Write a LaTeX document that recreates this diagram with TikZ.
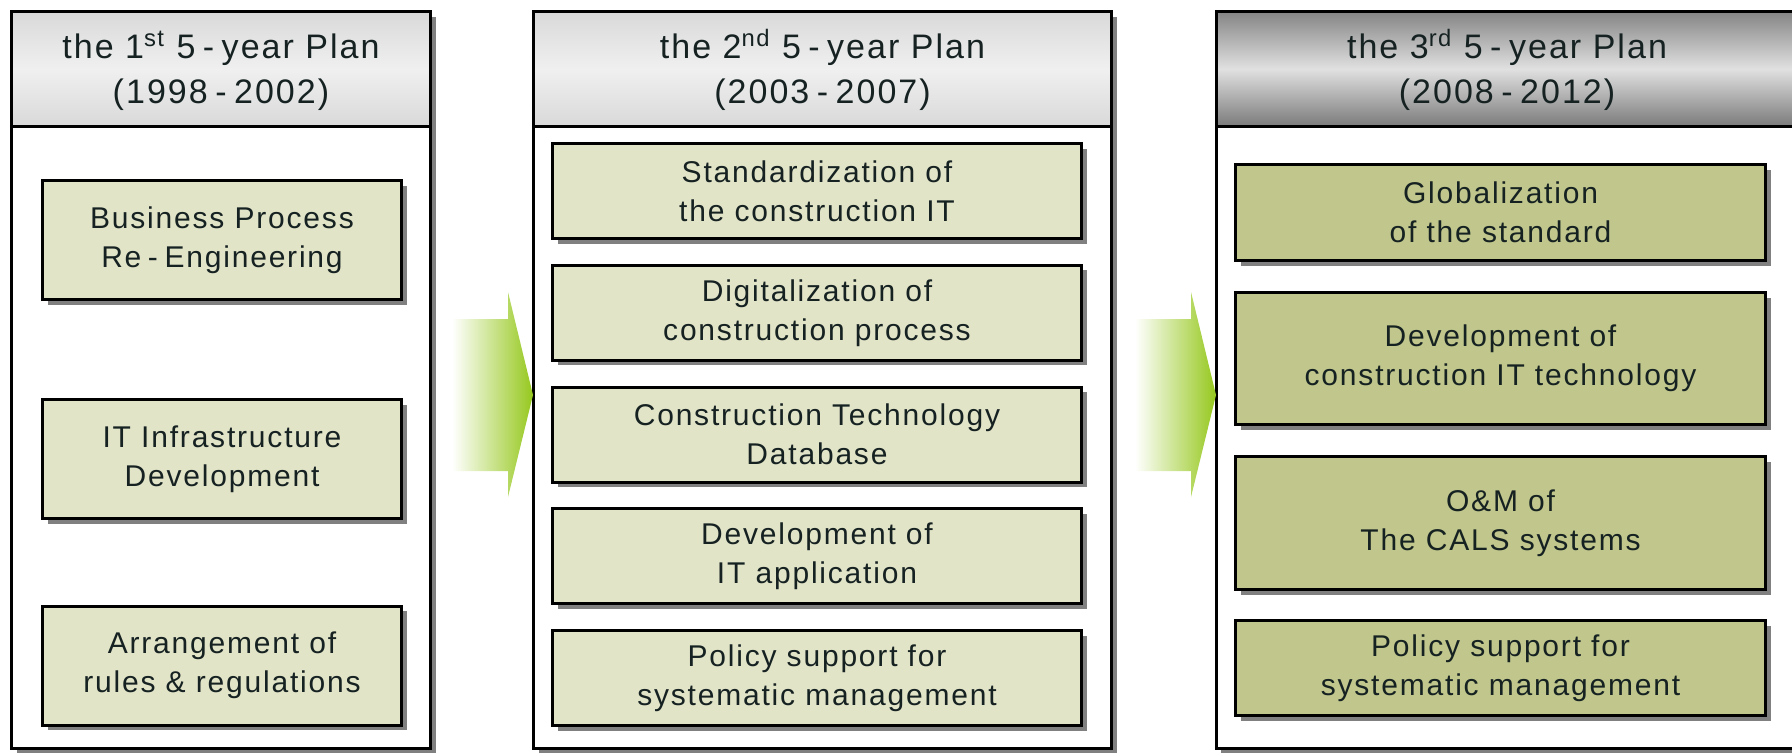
\documentclass[tikz,border=0pt]{standalone}
\usepackage{fontspec}
\setmainfont[LetterSpace=6]{Liberation Sans}
\usetikzlibrary{positioning,shadows}

\definecolor{ink}{RGB}{22,34,34}
\definecolor{paleolive}{RGB}{226,228,200}
\definecolor{olive}{RGB}{192,198,140}
\definecolor{arrowgreen}{RGB}{150,200,30}
\definecolor{shadowgray}{RGB}{128,128,128}

\newcommand{\dash}{\hspace{0.22em}-\hspace{0.22em}}

\tikzset{
  boxshadow/.style={drop shadow={shadow xshift=2.5pt, shadow yshift=-2.5pt, fill=shadowgray, opacity=1}},
  plan/.style={draw, line width=1.5pt, fill=white, minimum width=#1, minimum height=368.5pt, boxshadow},
  planhead/.style={draw, line width=1.5pt, minimum width=#1, minimum height=57.5pt, anchor=north,
    align=center, text=ink, font=\fontsize{17}{22.5}\selectfont,
    top color=black!15, bottom color=black!15, middle color=black!6},
  darkhead/.style={top color=black!48, bottom color=black!52, middle color=black!12},
  task/.style={draw, line width=1.5pt, fill=paleolive, align=center, text=ink,
    font=\fontsize{15}{19.5}\selectfont, boxshadow},
  task1/.style={task, minimum width=179.5pt, minimum height=59.5pt},
  task2/.style={task, minimum width=264.5pt, minimum height=47.5pt},
  task3/.style={task, fill=olive, minimum width=265pt, minimum height=#1},
  nextplan/.style={left color=white, right color=arrowgreen, draw=none}
}

\begin{document}
\begin{tikzpicture}[x=0.5pt, y=-0.5pt, node distance=11.9pt]
\useasboundingbox (0,0) rectangle (1792,752);

\node[plan=209.5pt] (p1) at (221,380) {};
\node[plan=289pt] (p2) at (822.5,380) {};
\node[plan=291pt] (p3) at (1507,380) {};

\node[planhead=209.5pt] (h1) at (p1.north) {\strut the 1\textsuperscript{st} 5\dash year Plan\\(1998\dash 2002)};
\node[planhead=289pt] (h2) at (p2.north) {\strut the 2\textsuperscript{nd} 5\dash year Plan\\(2003\dash 2007)};
\node[planhead=291pt, darkhead] (h3) at (p3.north) {\strut the 3\textsuperscript{rd} 5\dash year Plan\\(2008\dash 2012)};

\node[task1] (bpr) at (222,240) {Business Process\\Re\dash Engineering};
\node[task1] (infra) at (222,459) {IT Infrastructure\\Development};
\node[task1] (rules) at (222,665.5) {Arrangement of\\rules \& regulations};

\node[task2] (std) at (817,191) {Standardization of\\the construction IT};
\node[task2, below=of std] (digit) {Digitalization of\\construction process};
\node[task2, below=of digit] (ctdb) {Construction Technology\\Database};
\node[task2, below=of ctdb] (itapp) {Development of\\IT application};
\node[task2, below=of itapp] (policy2) {Policy support for\\systematic management};

\node[task3=48pt] (glob) at (1500.5,212.5) {Globalization\\of the standard};
\node[task3=66pt] (citt) at (1500.5,358.5) {Development of\\construction IT technology};
\node[task3=66.5pt] (cals) at (1500.5,523) {O\&M of\\The CALS systems};
\node[task3=47.5pt] (policy3) at (1500.5,668) {Policy support for\\systematic management};

\foreach \tx in {533,1216}
  \path[nextplan] ({\tx-81},319) -- ({\tx-25},319) -- ({\tx-25},292) -- (\tx,395)
    -- ({\tx-25},497) -- ({\tx-25},471) -- ({\tx-81},471) -- cycle;
\end{tikzpicture}
\end{document}
